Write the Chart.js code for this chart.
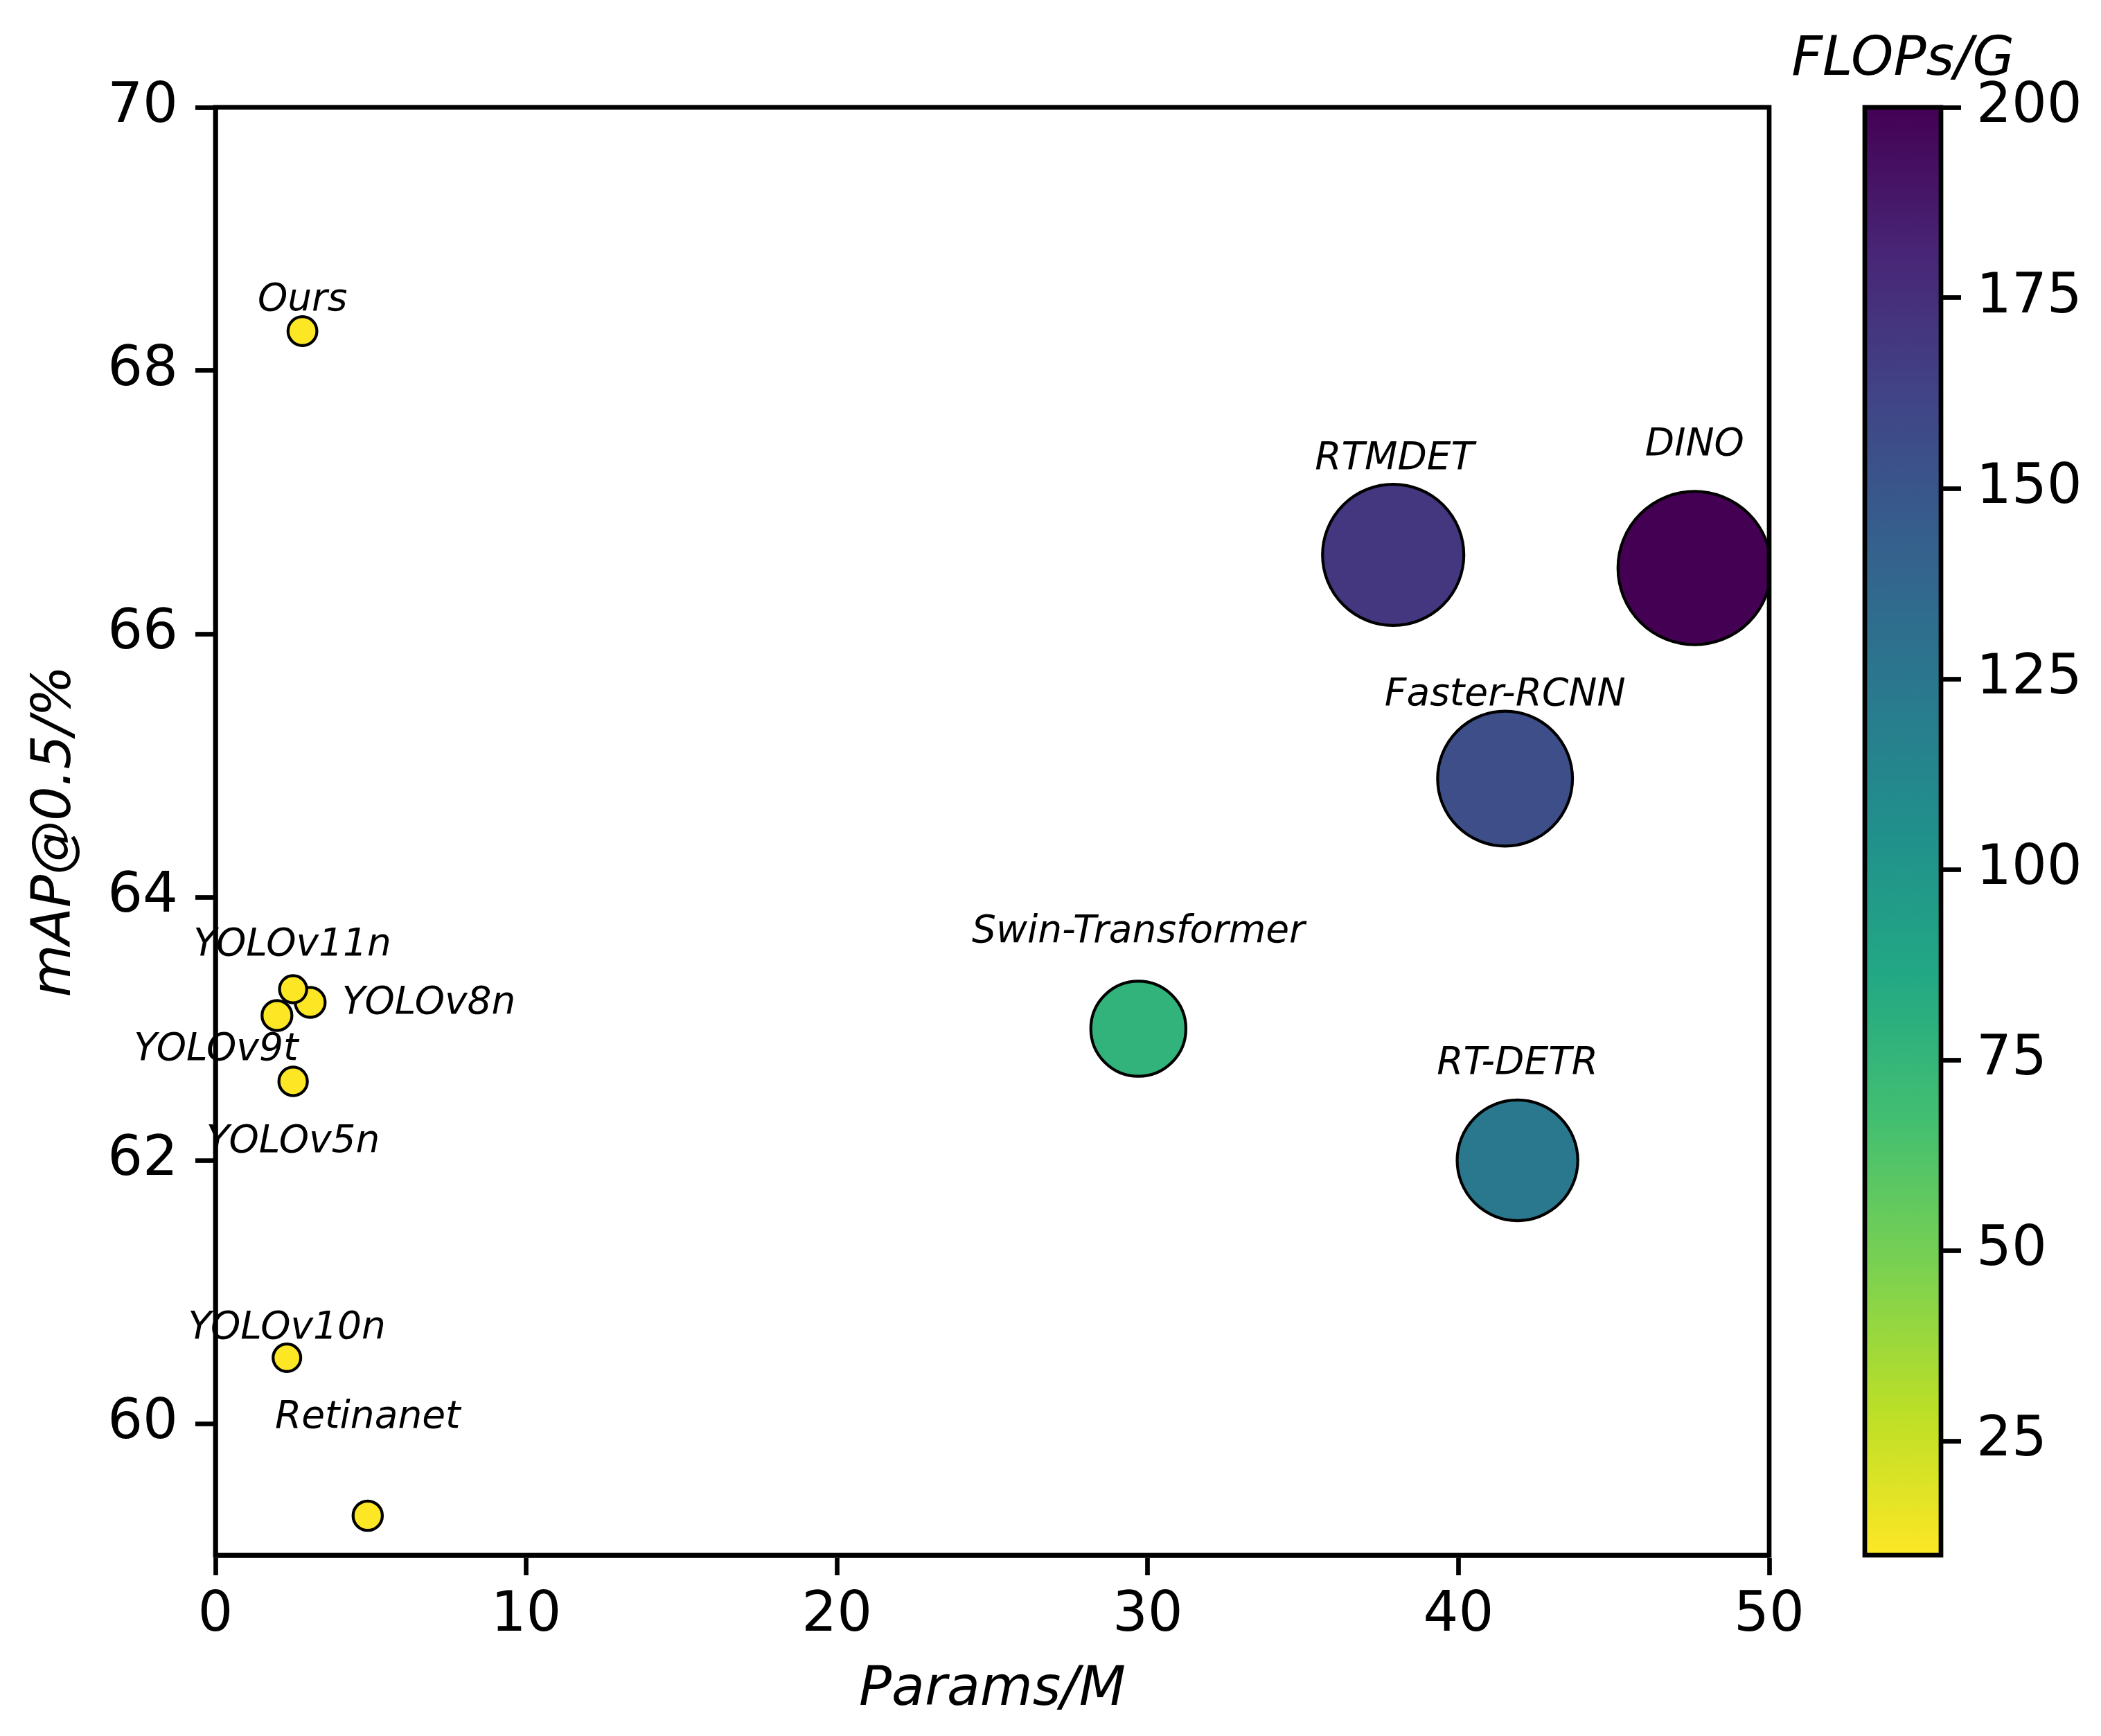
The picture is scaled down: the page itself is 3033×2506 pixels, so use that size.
<!DOCTYPE html>
<html>
<head>
<meta charset="utf-8">
<title>Params vs mAP bubble chart</title>
<script src="https://cdn.jsdelivr.net/npm/chart.js@4.4.1/dist/chart.umd.min.js"></script>
<style>
  html, body { margin: 0; padding: 0; background: #fff; overflow: hidden; }
  #main { position: absolute; left: 0; top: 0; }
  #cbar { position: absolute; left: 2500px; top: 0; }
</style>
</head>
<body>
<canvas id="main" width="3033" height="2506"></canvas>
<canvas id="cbar" width="533" height="2506"></canvas>
<script>
'use strict';

// ── DATA (draw order matters where the small markers overlap) ──
const models = ['Faster-RCNN', 'Retinanet', 'RT-DETR', 'DINO', 'RTMDET', 'Swin-Transformer',
                'YOLOv5n', 'YOLOv8n', 'YOLOv10n', 'YOLOv11n', 'YOLOv9t', 'Ours'];
const paramsM = [41.5, 4.9, 41.9, 47.6, 37.9, 29.7, 2.5, 3.05, 2.3, 2.5, 1.98, 2.8];
const mapPct  = [64.9, 59.3, 62.0, 66.5, 66.6, 63.0, 62.6, 63.2, 60.5, 63.3, 63.1, 68.3];
const flopsG  = [155, 7.3, 124, 200, 170, 77, 6.9, 7.6, 6.5, 6.3, 7.6, 7.1];

const xTicksRange = [0, 50];
const yTicksRange = [59, 70];
const cbarRange   = [10, 200];

// ── STYLE ────────────────────────────────────────────────────
const FONT = "'DejaVu Sans', 'Liberation Sans', sans-serif";
const TICK_SIZE = 80;
const TITLE_SIZE = 78;
const LABEL_SIZE = 55;
const LINE_W = 6.7;
const TICK_LEN = 29;
const BUBBLE_K = 7.82;       // radius = K * sqrt(FLOPs)

// label anchor relative to the point centre (px), text baseline
const labelLayout = {
  'Faster-RCNN':      { dx: 0,   dy: -106, align: 'center' },
  'Retinanet':        { dx: 0,   dy: -127, align: 'center' },
  'RT-DETR':          { dx: 0,   dy: -125, align: 'center' },
  'DINO':             { dx: 0,   dy: -163, align: 'center' },
  'RTMDET':           { dx: 2,   dy: -124, align: 'center' },
  'Swin-Transformer': { dx: 0,   dy: -125, align: 'center' },
  'YOLOv5n':          { dx: 0,   dy: 102,  align: 'center' },
  'YOLOv8n':          { dx: 46,  dy: 16,   align: 'left' },
  'YOLOv10n':         { dx: 0,   dy: -28,  align: 'center' },
  'YOLOv11n':         { dx: -1,  dy: -49,  align: 'center' },
  'YOLOv9t':          { dx: -88, dy: 64,   align: 'center' },
  'Ours':             { dx: 0,   dy: -30,  align: 'center' },
};

// matplotlib viridis, 11 evenly spaced stops
const VIRIDIS = ['#440154', '#482576', '#414487', '#35608d', '#2a788e', '#21908c',
                 '#22a884', '#43bf71', '#7ad151', '#bbdf27', '#fde725'];

// ── HELPERS ──────────────────────────────────────────────────
function hexRgb(h) {
  return [1, 3, 5].map(i => parseInt(h.slice(i, i + 2), 16));
}

function viridis(t) {
  t = Math.min(1, Math.max(0, t));
  const pos = t * (VIRIDIS.length - 1);
  const i = Math.min(VIRIDIS.length - 2, Math.floor(pos));
  const f = pos - i;
  const a = hexRgb(VIRIDIS[i]), b = hexRgb(VIRIDIS[i + 1]);
  const c = a.map((v, k) => Math.round(v + (b[k] - v) * f));
  return `rgb(${c[0]},${c[1]},${c[2]})`;
}

// reversed map: low FLOPs -> yellow, high FLOPs -> purple
function flopsColor(v) {
  const t = (v - cbarRange[0]) / (cbarRange[1] - cbarRange[0]);
  return viridis(1 - t);
}

Chart.defaults.font.family = FONT;
Chart.defaults.color = '#000';

const axisCommon = {
  type: 'linear',
  grid: { display: true, drawOnChartArea: false, drawTicks: true,
          tickLength: TICK_LEN, tickWidth: LINE_W, tickColor: '#000' },
  border: { display: true, color: '#000', width: LINE_W },
};

// ── PLUGINS ──────────────────────────────────────────────────
const framePlugin = {
  id: 'frame',
  afterDatasetsDraw(chart) {
    const { ctx, chartArea: a } = chart;
    ctx.save();
    ctx.strokeStyle = '#000';
    ctx.lineWidth = LINE_W;
    ctx.strokeRect(a.left, a.top, a.right - a.left, a.bottom - a.top);
    ctx.restore();
  },
};

const labelPlugin = {
  id: 'pointLabels',
  afterDatasetsDraw(chart) {
    const { ctx } = chart;
    const pts = chart.getDatasetMeta(0).data;
    ctx.save();
    ctx.fillStyle = '#000';
    ctx.font = `italic ${LABEL_SIZE}px ${FONT}`;
    ctx.textBaseline = 'alphabetic';
    pts.forEach((p, i) => {
      const lay = labelLayout[models[i]];
      ctx.textAlign = lay.align;
      ctx.fillText(models[i], p.x + lay.dx, p.y + lay.dy);
    });
    ctx.restore();
  },
};

const colorbarPlugin = {
  id: 'colorbar',
  beforeDatasetsDraw(chart) {
    const { ctx, chartArea: a } = chart;
    const ys = chart.scales.y;
    const yLo = ys.getPixelForValue(cbarRange[0]);
    const yHi = ys.getPixelForValue(cbarRange[1]);
    const grad = ctx.createLinearGradient(0, yLo, 0, yHi);
    VIRIDIS.slice().reverse().forEach((c, i) => grad.addColorStop(i / (VIRIDIS.length - 1), c));
    ctx.save();
    ctx.fillStyle = grad;
    ctx.fillRect(a.left, a.top, a.right - a.left, a.bottom - a.top);
    ctx.restore();
  },
  afterDatasetsDraw(chart) {
    const { ctx, chartArea: a } = chart;
    ctx.save();
    ctx.strokeStyle = '#000';
    ctx.lineWidth = LINE_W;
    ctx.strokeRect(a.left, a.top, a.right - a.left, a.bottom - a.top);
    ctx.fillStyle = '#000';
    ctx.font = `italic ${TITLE_SIZE}px ${FONT}`;
    ctx.textAlign = 'center';
    ctx.textBaseline = 'alphabetic';
    ctx.fillText('FLOPs/G', (a.left + a.right) / 2, 108);
    ctx.restore();
  },
};

// ── MAIN SCATTER ─────────────────────────────────────────────
new Chart(document.getElementById('main'), {
  type: 'scatter',
  data: {
    datasets: [{
      data: paramsM.map((x, i) => ({ x, y: mapPct[i] })),
      pointRadius: c => BUBBLE_K * Math.sqrt(flopsG[c.dataIndex]),
      pointBackgroundColor: c => flopsColor(flopsG[c.dataIndex]),
      pointBorderColor: '#000',
      pointBorderWidth: 4.2,
      clip: 0,
    }],
  },
  options: {
    responsive: false,
    animation: false,
    devicePixelRatio: 1,
    events: [],
    layout: { padding: { top: 155, right: 479, bottom: 0, left: 0 } },
    plugins: { legend: { display: false }, tooltip: { enabled: false } },
    scales: {
      x: {
        ...axisCommon,
        min: xTicksRange[0],
        max: xTicksRange[1],
        ticks: { stepSize: 10, includeBounds: false, maxRotation: 0,
                 font: { size: TICK_SIZE }, color: '#000', padding: 11 },
        title: { display: true, text: 'Params/M', color: '#000',
                 font: { size: TITLE_SIZE, style: 'italic' }, padding: { top: 0, bottom: 18 } },
        afterFit: s => { s.height = 261; },
      },
      y: {
        ...axisCommon,
        min: yTicksRange[0],
        max: yTicksRange[1],
        ticks: { stepSize: 2, includeBounds: false,
                 font: { size: TICK_SIZE }, color: '#000', padding: 25 },
        title: { display: true, text: 'mAP@0.5/%', color: '#000',
                 font: { size: TITLE_SIZE, style: 'italic' }, padding: { top: 34, bottom: 0 } },
        afterFit: s => { s.width = 311; },
      },
    },
  },
  plugins: [framePlugin, labelPlugin],
});

// ── COLORBAR ─────────────────────────────────────────────────
new Chart(document.getElementById('cbar'), {
  type: 'scatter',
  data: { datasets: [] },
  options: {
    responsive: false,
    animation: false,
    devicePixelRatio: 1,
    events: [],
    layout: { padding: { top: 155, right: 0, bottom: 261, left: 192 } },
    plugins: { legend: { display: false }, tooltip: { enabled: false } },
    scales: {
      x: { type: 'linear', display: false, min: 0, max: 1 },
      y: {
        ...axisCommon,
        position: 'right',
        min: cbarRange[0],
        max: cbarRange[1],
        border: { display: false },
        ticks: { stepSize: 25, includeBounds: false,
                 font: { size: TICK_SIZE }, color: '#000', padding: 22 },
        afterFit: s => { s.width = 231; },
      },
    },
  },
  plugins: [colorbarPlugin],
});
</script>
</body>
</html>
